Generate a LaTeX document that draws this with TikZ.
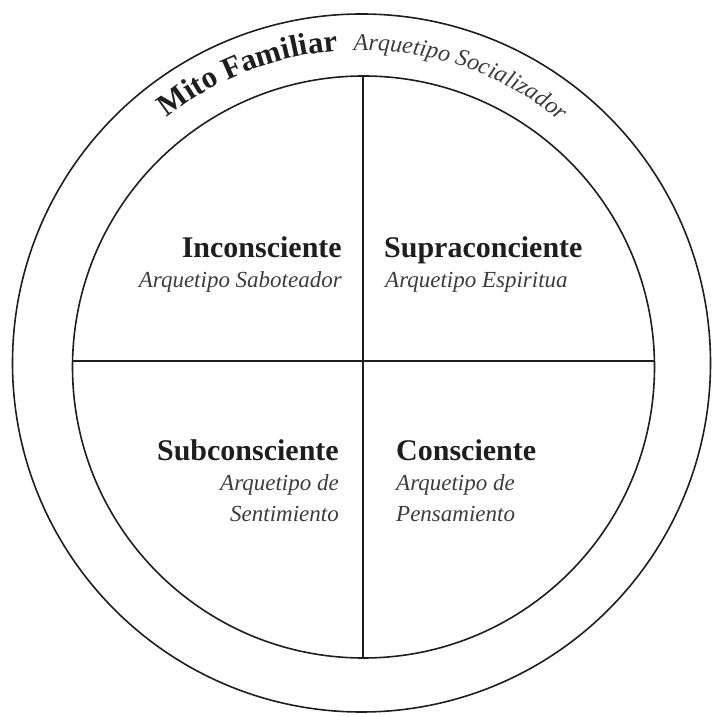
\documentclass[tikz,border=0pt]{standalone}
\usepackage{fontspec}
\setmainfont{Liberation Serif}
\usetikzlibrary{decorations.text}

\definecolor{ink}{RGB}{30,30,30}
\definecolor{soft}{RGB}{60,60,60}

\tikzset{
  title/.style={inner sep=0pt, text=ink, font=\bfseries\fontsize{30}{30}\selectfont},
  archetype/.style={inner sep=0pt, text=soft, font=\itshape\fontsize{23}{23}\selectfont}
}

\begin{document}
\begin{tikzpicture}[x=1pt, y=1pt]
  \useasboundingbox (0,0) rectangle (715,717);

  % the family myth ring and the mind circle
  \draw[ink, line width=1.6pt] (361.5,354) circle (349);
  \draw[ink, line width=1.6pt] (363.5,350) circle (291);

  % four quadrants
  \draw[ink, line width=1.5pt] (72.6,356) -- (654.4,356);
  \draw[ink, line width=1.5pt] (363,641) -- (363,59);

  % ring label, running along the arc between both circles
  \path[decorate, decoration={text along path, text align=left,
      text={|\bfseries\fontsize{31}{31}\selectfont\color{ink}|Mito Familiar{ }{ }|\itshape\fontsize{24}{24}\selectfont\color{soft}|Arquetipo Socializador}}]
    (361.5,354) ++(128.5:313) arc (128.5:35:313);

  % upper left
  \node[title, anchor=base east] (incons) at (342,459) {Inconsciente};
  \node[archetype, anchor=base east] (incarq) at (342,429) {Arquetipo Saboteador};

  % upper right
  \node[title, anchor=base west] (supra) at (384,459) {Supraconciente};
  \node[archetype, anchor=base west] (suparq) at (385,429) {Arquetipo Espiritua};

  % lower left
  \node[title, anchor=base east] (subcons) at (339,256) {Subconsciente};
  \node[archetype, anchor=base east] (subarq) at (339,226) {Arquetipo de};
  \node[archetype, anchor=base east] (subsen) at (339,195) {Sentimiento};

  % lower right
  \node[title, anchor=base west] (cons) at (396,256) {Consciente};
  \node[archetype, anchor=base west] (conarq) at (396,226) {Arquetipo de};
  \node[archetype, anchor=base west] (conpen) at (396,195) {Pensamiento};

\end{tikzpicture}
\end{document}
